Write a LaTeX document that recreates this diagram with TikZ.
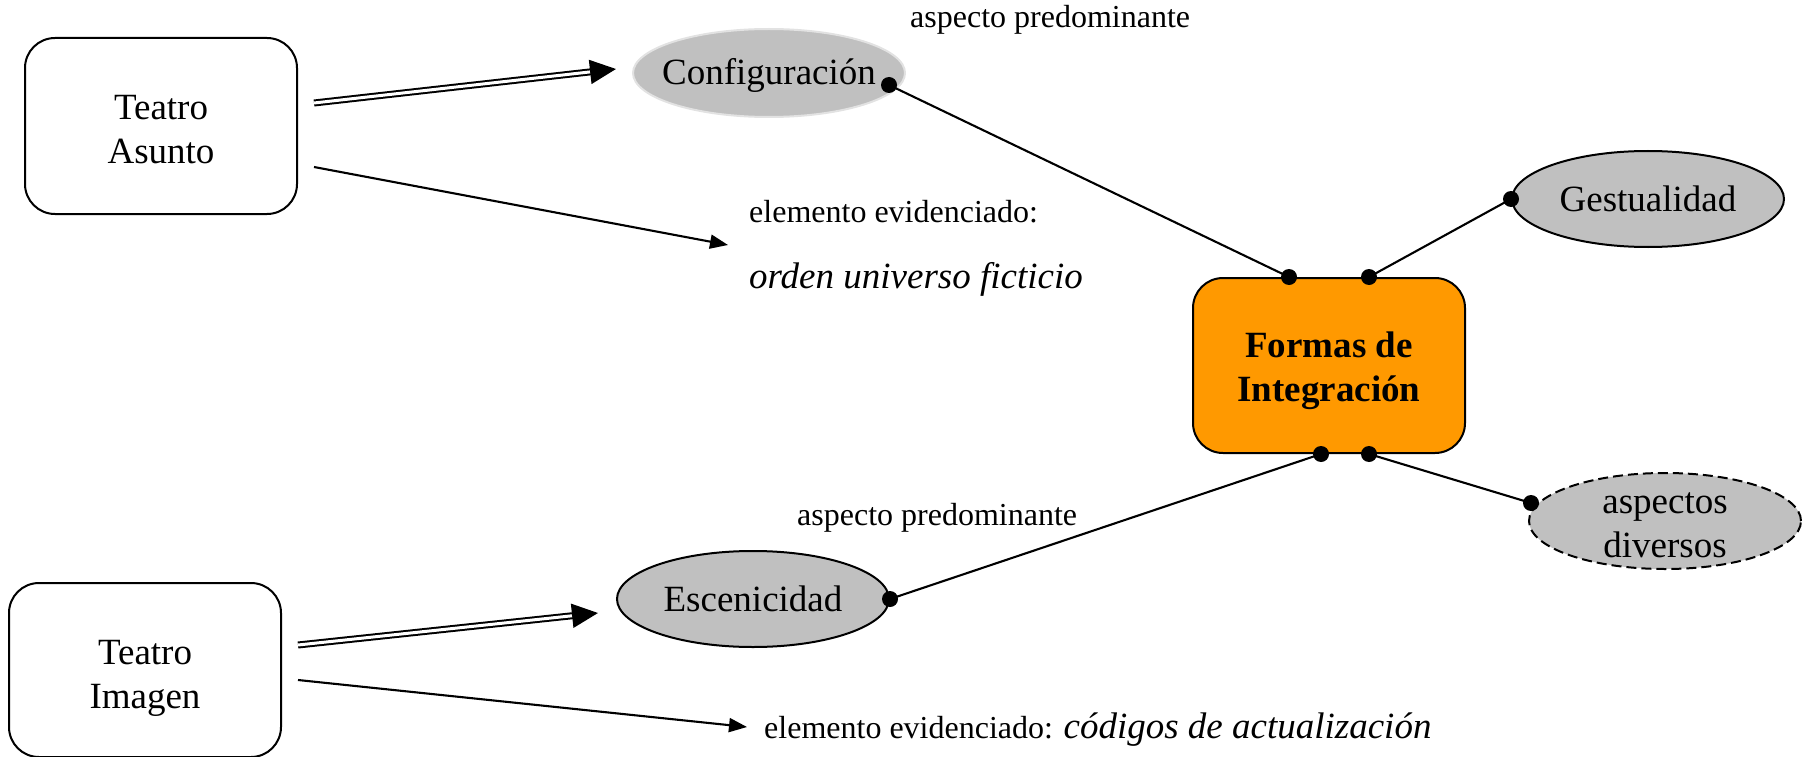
\documentclass[tikz,border=0pt]{standalone}
\usepackage{fontspec}
\setmainfont{Liberation Serif}[ItalicFont={Liberation Serif Italic},BoldFont={Liberation Serif Bold}]
\usetikzlibrary{arrows.meta,calc,shapes.geometric}
\definecolor{ovgray}{HTML}{C0C0C0}
\definecolor{orng}{HTML}{FF9900}
\definecolor{cfgedge}{HTML}{E2E2E2}
\newcommand\mystrut[1]{\rule{0pt}{#1}}
\begin{document}
\begin{tikzpicture}[x=1pt,y=-1pt,
  big/.style={font=\fontsize{37}{44}\selectfont},
  small/.style={font=\fontsize{32}{38}\selectfont},
  tbox/.style={draw, line width=2pt, rounded corners=30pt, minimum width=272pt, minimum height=176pt, inner sep=0pt, align=center, big},
  oval/.style={ellipse, draw, line width=2pt, fill=ovgray, minimum width=272pt, minimum height=96pt, inner xsep=-20pt, inner ysep=0pt, align=center, big},
  lbl/.style={anchor=base west, inner sep=0pt},
  jdot/.style={circle, fill=black, inner sep=0pt, minimum size=16pt},
  conn/.style={line width=2.1pt},
  dbl/.style={double, double distance=3pt, line width=2pt, -{Triangle[length=26pt,width=24pt]}},
  sarr/.style={line width=2.1pt, -{Triangle[length=18pt,width=14pt]}}
]
\useasboundingbox (0,0) rectangle (1807,757);
% boxes
\node[tbox] (TA) at (161,126) {\mystrut{31pt}Teatro\\Asunto};
\node[tbox, minimum height=174pt] (TI) at (145,670) {\mystrut{40pt}Teatro\\Imagen};
\node[tbox, fill=orng, minimum height=175pt, font=\bfseries\fontsize{37}{44}\selectfont] (F) at (1329,365.5) {\mystrut{36pt}Formas de\\Integración};
% ellipses
\node[oval, draw=cfgedge, minimum height=88pt] (C) at (769,73) {\mystrut{30pt}Configuración};
\node[oval] (G) at (1648,199) {Gestualidad};
\node[oval] (E) at (753,599) {Escenicidad};
\node[oval, inner ysep=-10pt, dash pattern=on 10pt off 5pt] (D) at (1665,521) {\mystrut{30pt}aspectos\\diversos};
% labels
\node[lbl, small] (ap1) at (910,28) {aspecto predominante};
\node[lbl, small] (ee1) at (749,222) {elemento evidenciado:};
\node[lbl, big, font=\itshape\fontsize{37}{44}\selectfont] (ou) at (749,288) {orden universo ficticio};
\node[lbl, small] (ap2) at (797,525) {aspecto predominante};
\node[lbl, small] (ee2) at (764,738) {elemento evidenciado: {\fontsize{37}{44}\selectfont\itshape códigos de actualización}};
% arrow end points
\coordinate (d1s) at ($(TA.east)+(16,-23)$);
\coordinate (d1e) at ($(C.west)+(-16,-4)$);
\coordinate (s1s) at ($(TA.east)+(16,41)$);
\coordinate (s1e) at ($(ee1.base west)+(-21,23)$);
\coordinate (d2s) at ($(TI.east)+(16,-25)$);
\coordinate (d2e) at ($(E.west)+(-18,14)$);
\coordinate (s2s) at ($(TI.east)+(16,10)$);
\coordinate (s2e) at ($(ee2.base west)+(-17,-11)$);
\draw[dbl] (d1s) -- (d1e);
\draw[sarr] (s1s) -- (s1e);
\draw[dbl] (d2s) -- (d2e);
\draw[sarr] (s2s) -- (s2e);
% connection points
\coordinate (cdot) at ($(C.center)+(120,12)$);
\coordinate (f1) at ($(F.north)+(-40,0)$);
\coordinate (f2) at ($(F.north)+(40,0)$);
\coordinate (f3) at ($(F.south)+(-8,0)$);
\coordinate (f4) at ($(F.south)+(40,0)$);
\coordinate (gdot) at (G.west);
\coordinate (edot) at (E.east);
\coordinate (ddot) at ($(D.center)+(-134,-18)$);
\draw[conn] (cdot) -- (f1);
\draw[conn] (f2) -- (gdot);
\draw[conn] (f3) -- (edot);
\draw[conn] (f4) -- (ddot);
\foreach \p in {cdot,f1,f2,f3,f4,gdot,edot,ddot}
  \node[jdot] at (\p) {};
\end{tikzpicture}
\end{document}
